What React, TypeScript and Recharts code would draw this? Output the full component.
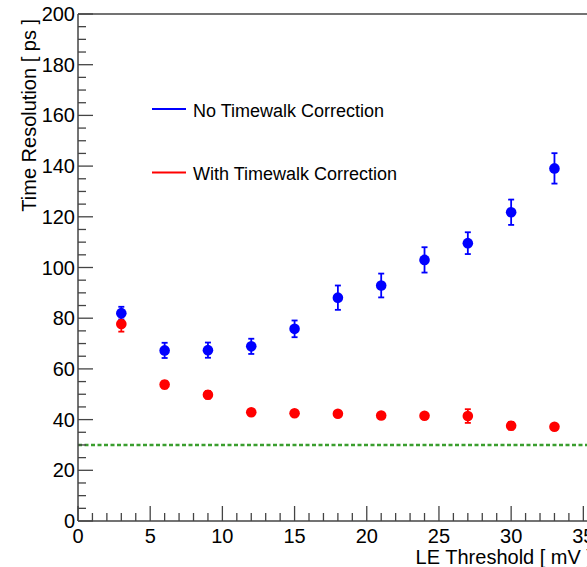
import React from "react";
import {
  ScatterChart,
  Scatter,
  XAxis,
  YAxis,
  ErrorBar,
  ReferenceLine,
  Label,
} from "recharts";

// LE threshold settings [mV]
const thresholds = [3, 6, 9, 12, 15, 18, 21, 24, 27, 30, 33];

// time resolution without timewalk correction [ps]
const noCorrection = [82, 67.3, 67.4, 68.9, 75.8, 88.1, 92.9, 103, 109.6, 121.8, 139.1];
const noCorrectionErr = [2.5, 3, 3, 3, 3.3, 4.8, 4.7, 5, 4.3, 5, 6];

// time resolution with timewalk correction [ps]
const withCorrection = [77.7, 53.8, 49.8, 42.9, 42.5, 42.3, 41.6, 41.5, 41.4, 37.6, 37.2];
const withCorrectionErr = [3, 1.5, 1.5, 1.2, 1, 1, 1, 0.8, 2.7, 1.5, 0.8];

const targetResolution = 30;

const xTicks = Array.from({ length: 36 }, (_, i) => i);
const yTicks = Array.from({ length: 41 }, (_, i) => i * 5);

const FONT = '"Liberation Sans", Arial, Helvetica, sans-serif';
const AXIS = "#444";

const toPoints = (vals: number[], errs: number[]) =>
  thresholds.map((x, i) => ({ x, y: vals[i], err: errs[i] }));

const blueData = toPoints(noCorrection, noCorrectionErr);
const redData = toPoints(withCorrection, withCorrectionErr);

const XTick = (props: any) => {
  const { x, y, payload } = props;
  const v = payload.value;
  const major = v % 5 === 0;
  return (
    <g>
      <line x1={x} x2={x} y1={y} y2={y - (major ? 15 : 8)} stroke={AXIS} strokeWidth={1.3} />
      {major && (
        <text x={x} y={y + 22} textAnchor="middle" fontSize={20} fontFamily={FONT} fill="#000">
          {v}
        </text>
      )}
    </g>
  );
};

const YTick = (props: any) => {
  const { x, y, payload } = props;
  const v = payload.value;
  const major = v % 20 === 0;
  return (
    <g>
      <line x1={x} x2={x + (major ? 15 : 8)} y1={y} y2={y} stroke={AXIS} strokeWidth={1.3} />
      {major && (
        <text x={x - 3} y={y + 7} textAnchor="end" fontSize={20} fontFamily={FONT} fill="#000">
          {v}
        </text>
      )}
    </g>
  );
};

const dot = (color: string, r: number) => (props: any) =>
  <circle cx={props.cx} cy={props.cy} r={r} fill={color} />;

export default function App() {
  return (
    <div style={{ width: 587, height: 567, overflow: "hidden", position: "relative", background: "#fff" }}>
      <style>{"body{margin:0}"}</style>
      <ScatterChart width={600} height={567} margin={{ top: 14, right: 8, bottom: 0, left: 0 }}>
        <XAxis
          type="number"
          dataKey="x"
          domain={[0, 35.6]}
          ticks={xTicks}
          interval={0}
          height={46}
          tickSize={0}
          tickMargin={0}
          tick={<XTick />}
          axisLine={{ stroke: AXIS, strokeWidth: 1.5 }}
          tickLine={false}
        >
          <Label
            content={(p: any) => (
              <text
                x={p.viewBox.x + p.viewBox.width}
                y={p.viewBox.y + 43}
                textAnchor="end"
                fontSize={20}
                fontFamily={FONT}
                fill="#000"
              >
                LE Threshold [ mV ]
              </text>
            )}
          />
        </XAxis>
        <YAxis
          type="number"
          dataKey="y"
          domain={[0, 200]}
          ticks={yTicks}
          interval={0}
          width={78}
          tickSize={0}
          tickMargin={0}
          tick={<YTick />}
          axisLine={{ stroke: AXIS, strokeWidth: 1.5 }}
          tickLine={false}
        >
          <Label
            content={(p: any) => {
              const lx = p.viewBox.x + 36;
              const ly = p.viewBox.y + 5;
              return (
                <text
                  x={lx}
                  y={ly}
                  textAnchor="end"
                  fontSize={20}
                  fontFamily={FONT}
                  fill="#000"
                  transform={`rotate(-90, ${lx}, ${ly})`}
                >
                  Time Resolution [ ps ]
                </text>
              );
            }}
          />
        </YAxis>
        <ReferenceLine y={200} stroke={AXIS} strokeWidth={1.5} />
        <ReferenceLine
          y={targetResolution}
          stroke="#3a9e2e"
          strokeWidth={2.5}
          strokeDasharray="4 2.5"
        />
        <Scatter
          name="With Timewalk Correction"
          data={redData}
          shape={dot("#ff0000", 5.3)}
          isAnimationActive={false}
        >
          <ErrorBar dataKey="err" direction="y" width={3} strokeWidth={1.8} stroke="#ff0000" />
        </Scatter>
        <Scatter
          name="No Timewalk Correction"
          data={blueData}
          shape={dot("#0000ff", 5.3)}
          isAnimationActive={false}
        >
          <ErrorBar dataKey="err" direction="y" width={3} strokeWidth={1.8} stroke="#0000ff" />
        </Scatter>
      </ScatterChart>
      <svg
        width={587}
        height={567}
        style={{ position: "absolute", left: 0, top: 0, pointerEvents: "none" }}
      >
        <line x1={152} x2={186} y1={109} y2={109} stroke="#0000ff" strokeWidth={1.8} />
        <text x={193} y={117} fontSize={18} fontFamily={FONT} fill="#000">
          No Timewalk Correction
        </text>
        <line x1={152} x2={186} y1={172.5} y2={172.5} stroke="#ff0000" strokeWidth={1.8} />
        <text x={193} y={180} fontSize={18} fontFamily={FONT} fill="#000">
          With Timewalk Correction
        </text>
      </svg>
    </div>
  );
}
